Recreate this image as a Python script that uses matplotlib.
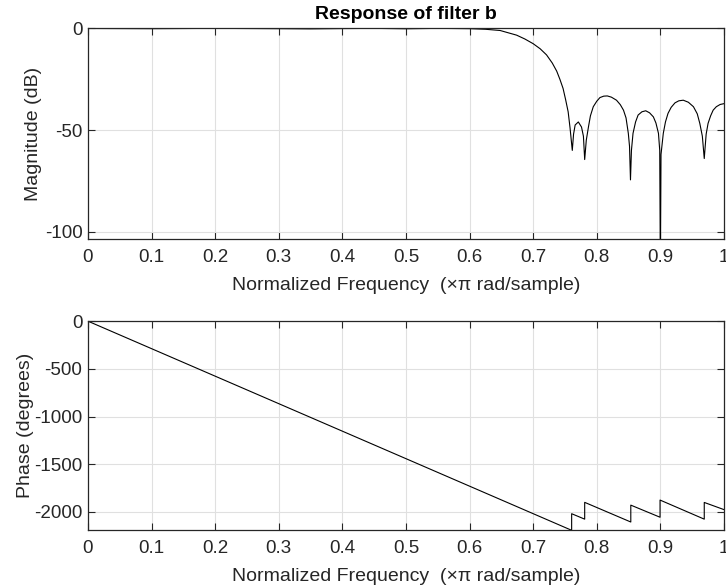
import matplotlib
matplotlib.use("Agg")
from matplotlib import pyplot as plt

# magnitude response (normalized freq, dB)
mag_freq = [0.0, 0.1, 0.2, 0.3, 0.35, 0.4, 0.45, 0.5, 0.55, 0.6, 0.625, 0.648,
            0.674, 0.687, 0.700, 0.711, 0.721, 0.730, 0.737, 0.742, 0.747,
            0.751, 0.755, 0.758, 0.7615, 0.7635, 0.766, 0.771, 0.776, 0.779,
            0.781, 0.7835, 0.787, 0.790, 0.7945, 0.800, 0.805, 0.811, 0.8166,
            0.823, 0.831, 0.837, 0.842, 0.846, 0.8496, 0.8515, 0.853,
            0.8545, 0.857, 0.861, 0.865, 0.871, 0.877, 0.883, 0.889, 0.893,
            0.897, 0.899, 0.900, 0.901, 0.9046, 0.908, 0.912, 0.917, 0.923,
            0.929, 0.936, 0.944, 0.952, 0.958, 0.962, 0.966, 0.969,
            0.972, 0.975, 0.979, 0.983, 0.988, 0.994, 1.0]
mag_db = [0.0, -0.1, 0.05, -0.1, -0.2, -0.05, 0.05, -0.15, 0.05, -0.1, -0.4, -1.0,
          -3.3, -5.2, -7.5, -10.0, -13.0, -17.0, -21.0, -25.0, -29.5,
          -35.0, -41.0, -49.0, -60.0, -52.0, -47.5, -46.0, -48.5, -53.0,
          -64.5, -55.0, -48.3, -43.0, -38.5, -35.8, -34.0, -33.3, -33.2,
          -33.8, -35.3, -37.5, -40.2, -44.0, -51.6, -58.0, -74.5,
          -60.0, -51.6, -46.0, -42.6, -41.0, -40.5, -41.5, -43.5, -46.5,
          -51.6, -60.0, -120.0, -62.0, -51.6, -46.0, -41.8, -38.8, -36.6,
          -35.6, -35.3, -36.3, -38.5, -42.0, -46.7, -53.0, -64.0,
          -52.0, -46.7, -43.0, -40.2, -38.5, -37.4, -37.0]

# phase response (degrees), vertices of the wrapped linear phase
phase_freq = [0.0, 0.7605, 0.7605, 0.781, 0.781, 0.8535, 0.8535, 0.8995,
              0.8995, 0.969, 0.969, 1.0]
phase_deg = [0.0, -2192.0, -2018.0, -2075.0, -1899.0, -2105.0, -1928.0, -2055.0,
             -1875.0, -2075.0, -1900.0, -1975.0]

freq_ticks = [0, 0.1, 0.2, 0.3, 0.4, 0.5, 0.6, 0.7, 0.8, 0.9, 1]
freq_labels = ["0", "0.1", "0.2", "0.3", "0.4", "0.5", "0.6", "0.7", "0.8", "0.9", "1"]

plt.rcParams["font.family"] = ["Liberation Sans", "DejaVu Sans"]

dark = "#262626"
xlab = "Normalized Frequency  (\u00d7\u03c0 rad/sample)"

fig = plt.figure(figsize=(7.26, 5.88), dpi=100)
ax1 = fig.add_axes([0.1212, 0.5935, 0.8760, 0.3588])
ax2 = fig.add_axes([0.1212, 0.0986, 0.8760, 0.3560])


def style(ax):
    ax.set_xlim(0, 1)
    ax.set_xticks(freq_ticks)
    ax.set_xticklabels(freq_labels)
    ax.grid(True, color="#e0e0e0", lw=0.8)
    ax.set_axisbelow(True)
    ax.tick_params(direction="in", top=True, right=True, length=5,
                   color=dark, labelcolor=dark, labelsize=13.5)
    ax.tick_params(axis="x", pad=7)
    ax.tick_params(axis="y", pad=4)
    for s in ax.spines.values():
        s.set_color(dark)
        s.set_linewidth(0.9)
    ax.set_xlabel(xlab, fontsize=14, color=dark, labelpad=8)


ax1.plot(mag_freq, mag_db, color="black", lw=0.8)
ax1.set_ylim(-103.6, 0.2)
ax1.set_yticks([-100, -50, 0])
ax1.set_yticklabels(["-100", "-50", "0"])
ax1.set_ylabel("Magnitude (dB)", fontsize=14, color=dark, labelpad=1.8)
ax1.set_title("Response of filter b", fontsize=14, fontweight="bold", pad=6.5)
style(ax1)

ax2.plot(phase_freq, phase_deg, color="black", lw=0.8)
ax2.set_ylim(-2189, 5)
ax2.set_yticks([-2000, -1500, -1000, -500, 0])
ax2.set_yticklabels(["-2000", "-1500", "-1000", "-500", "0"])
ax2.set_ylabel("Phase (degrees)", fontsize=14, color=dark, labelpad=-0.3)
style(ax2)

fig.savefig("out.png", dpi=100)
